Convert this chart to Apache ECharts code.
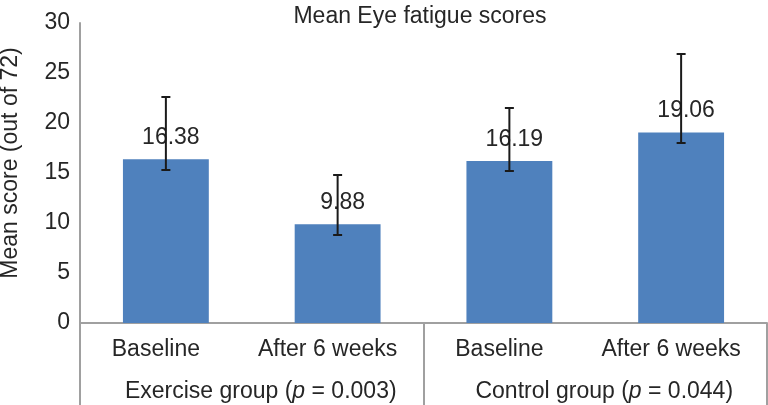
<!DOCTYPE html>
<html>
<head>
<meta charset="utf-8">
<script src="https://cdn.jsdelivr.net/npm/echarts@6/dist/echarts.min.js"></script>
<style>
html,body{margin:0;padding:0;background:#fff;}
#chart{width:768px;height:405px;}
</style>
</head>
<body>
<div id="chart"></div>
<script>
var categories = ['Baseline', 'After 6 weeks', 'Baseline', 'After 6 weeks'];
var groupNames = ['Exercise group', 'Control group'];
var pValues = ['0.003', '0.044'];
var meanScores = [16.38, 9.88, 16.19, 19.06];
var errLow = [15.3, 8.8, 15.2, 18.0];
var errHigh = [22.6, 14.8, 21.5, 26.9];
var yTicks = [0, 5, 10, 15, 20, 25, 30];

var FONT = 'Liberation Sans, Arial, sans-serif';
var FS = 23;
var TXT = '#262626';
var AX = '#a0a0a0';

var errData = meanScores.map(function (v, i) { return [i, errLow[i], errHigh[i]]; });

var chart = echarts.init(document.getElementById('chart'));
chart.setOption({
  animation: false,
  backgroundColor: '#fff',
  title: {
    text: 'Mean Eye fatigue scores',
    left: 415,
    textAlign: 'center',
    top: 0,
    textStyle: { fontFamily: FONT, fontSize: FS, fontWeight: 'normal', color: TXT }
  },
  grid: { left: 80, right: 1, top: 23, bottom: 82, containLabel: false, outerBoundsMode: 'none' },
  xAxis: [{
    type: 'category',
    data: categories,
    position: 'bottom',
    axisLine: { show: true, lineStyle: { color: AX, width: 2 } },
    axisTick: { show: false },
    axisLabel: { fontFamily: FONT, fontSize: FS, color: TXT, margin: 15, interval: 0, padding: [0, 20, 0, 0] }
  }, {
    type: 'category',
    data: groupNames,
    position: 'bottom',
    offset: 0,
    axisLine: { show: false },
    axisTick: { show: true, length: 82, lineStyle: { color: AX, width: 2 } },
    axisLabel: {
      margin: 57,
      interval: 0,
      padding: [0, 0, 0, 18],
      formatter: function (val, idx) {
        return val + ' ({it|p} = ' + pValues[idx] + ')';
      },
      fontFamily: FONT, fontSize: FS, color: TXT,
      rich: { it: { fontFamily: FONT, fontSize: FS, color: TXT, fontStyle: 'italic' } }
    }
  }],
  yAxis: {
    type: 'value',
    min: yTicks[0],
    max: yTicks[yTicks.length - 1],
    interval: yTicks[1] - yTicks[0],
    name: 'Mean score (out of 72)',
    nameLocation: 'middle',
    nameGap: 58,
    nameTextStyle: { fontFamily: FONT, fontSize: FS, color: TXT, padding: [0, 0, 0, 20] },
    axisLine: { show: true, lineStyle: { color: AX, width: 2 } },
    axisTick: { show: false },
    splitLine: { show: false },
    axisLabel: { fontFamily: FONT, fontSize: FS, color: TXT, margin: 10 }
  },
  series: [{
    type: 'bar',
    data: meanScores,
    barWidth: '50%',
    itemStyle: { color: '#4f81bd' },
    label: {
      show: true,
      position: 'top',
      distance: 10,
      offset: [5, 0],
      fontFamily: FONT, fontSize: FS, color: TXT,
      formatter: function (p) { return p.value.toFixed(2); }
    },
    z: 2
  }, {
    type: 'custom',
    data: errData,
    encode: { x: 0, y: [1, 2] },
    z: 10,
    renderItem: function (params, api) {
      var x = api.value(0);
      var lo = api.coord([x, api.value(1)]);
      var hi = api.coord([x, api.value(2)]);
      var hw = 4.5;
      var st = { stroke: '#1a1a1a', lineWidth: 2 };
      return {
        type: 'group',
        children: [
          { type: 'line', shape: { x1: lo[0], y1: lo[1], x2: hi[0], y2: hi[1] }, style: st },
          { type: 'line', shape: { x1: lo[0] - hw, y1: lo[1], x2: lo[0] + hw, y2: lo[1] }, style: st },
          { type: 'line', shape: { x1: hi[0] - hw, y1: hi[1], x2: hi[0] + hw, y2: hi[1] }, style: st }
        ]
      };
    }
  }]
});
</script>
</body>
</html>
